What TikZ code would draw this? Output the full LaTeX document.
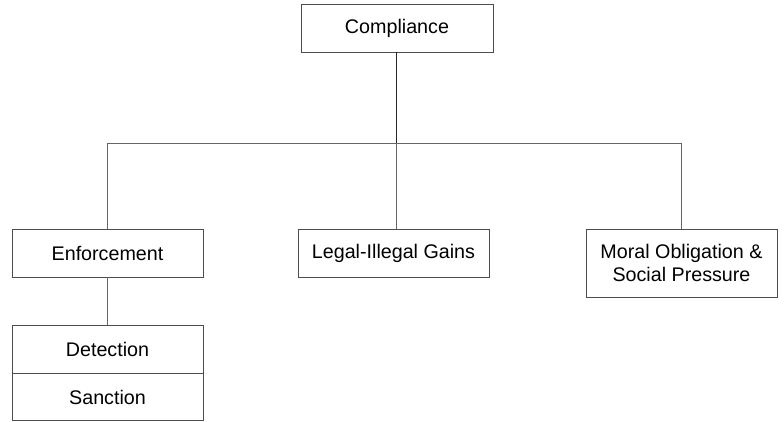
\documentclass[tikz,border=0pt]{standalone}
\usepackage{fontspec}
\setmainfont{Liberation Sans}
\begin{document}
\begin{tikzpicture}[x=1pt,y=-1pt,
  box/.style={draw=black!70, line width=0.9pt, minimum width=191pt, minimum height=48pt,
    inner sep=0pt, align=center, font=\fontsize{19.7}{23}\selectfont, text=black},
  conn/.style={draw=black!60, line width=0.9pt},
  mainconn/.style={draw=black!85, line width=1.4pt}]
\useasboundingbox (0,0) rectangle (784,422);
\node[box, minimum width=192pt] (comp) at (397,28) {Compliance};
\node[box] (enf) at (107.5,253) {Enforcement};
\node[box] (legal) at (393.5,253) {Legal-Illegal Gains};
\node[box, minimum height=68pt] (moral) at (681.5,263) {Moral Obligation \&\\Social Pressure};
\node[box, minimum height=47.5pt] (det) at (107.5,349.5) {Detection};
\node[box, minimum height=47.5pt] (sanc) at (107.5,397) {Sanction};
\coordinate (bL) at (107.5,143);
\coordinate (bM) at (396.5,143);
\coordinate (bR) at (681.5,143);
\draw[conn] (bL) -- (bR);
\draw[conn] (bL) -- (enf.north);
\draw[conn] (bR) -- (moral.north);
\draw[conn] (bM) -- (bM |- legal.north);
\draw[mainconn] (comp.south -| bM) -- (bM);
\draw[conn] (enf.south) -- (det.north);
\end{tikzpicture}
\end{document}
